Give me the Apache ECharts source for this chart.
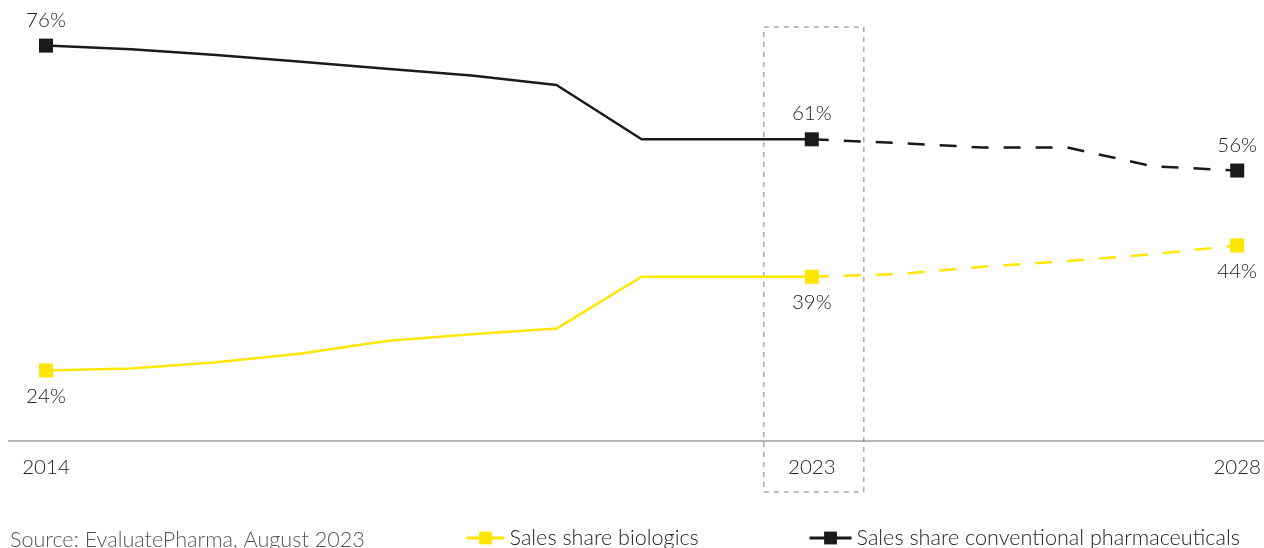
<!DOCTYPE html>
<html><head><meta charset="utf-8">
<script src="https://cdn.jsdelivr.net/npm/echarts@6/dist/echarts.min.js"></script>
<style>html,body{margin:0;padding:0;background:#fff}#c{width:1264px;height:548px}</style>
</head><body><div id="c"></div>
<script>
const years = ['2014','2015','2016','2017','2018','2019','2020','2021','2022','2023','2024','2025','2026','2027','2028'];
const labelYears = ['2014','2023','2028'];
const conventionalActual   = [76, 75.4, 74.5, 73.4, 72.3, 71.2, 69.7, 61, 61, 61, null, null, null, null, null];
const conventionalForecast = [null, null, null, null, null, null, null, null, null, 61, 60.4, 59.7, 59.7, 56.7, 56];
const biologicsActual      = [24, 24.3, 25.3, 26.7, 28.7, 29.8, 30.7, 39, 39, 39, null, null, null, null, null];
const biologicsForecast    = [null, null, null, null, null, null, null, null, null, 39, 39.4, 40.6, 41.5, 42.6, 44];
const markedActual = ['2014','2023'];
const markedForecast = ['2028'];
const nameBio = 'Sales share biologics';
const nameConv = 'Sales share conventional pharmaceuticals';
const sourceText = 'Source: EvaluatePharma, August 2023';

const FONT = 'Lato, "Open Sans", sans-serif';
const W = 300;
const BLACK = '#1a1a1a', YELLOW = '#ffe600', TXT = '#222';

function build(values, marked, pos) {
  return values.map((v, i) => {
    if (v === null) return null;
    const m = marked.includes(years[i]);
    return {
      value: v,
      symbol: m ? 'rect' : 'none',
      label: { show: m, position: pos, distance: 8, formatter: p => Math.round(p.value) + '%',
               color: TXT, fontSize: 20.5, fontWeight: W, fontFamily: FONT }
    };
  });
}
function series(name, values, marked, color, dashed, pos) {
  return {
    name, type: 'line', data: build(values, marked, pos),
    symbol: 'rect', symbolSize: 14, showSymbol: true,
    itemStyle: { color },
    lineStyle: { color, width: 2.5, type: dashed ? [17, 15] : 'solid' },
    connectNulls: false, silent: true, animation: false, z: color === BLACK ? 3 : 2
  };
}
const legendText = { color: TXT, fontSize: 21.6, fontWeight: W, fontFamily: FONT };

const chart = echarts.init(document.getElementById('c'), null, { renderer: 'canvas' });
const option = {
  animation: false,
  grid: { left: 46, right: 23, top: 20, bottom: 107, containLabel: false },
  xAxis: {
    type: 'category', data: years, boundaryGap: false,
    axisLine: { show: false }, axisTick: { show: false }, splitLine: { show: false },
    axisLabel: { interval: (i, v) => labelYears.includes(v), margin: 16,
                 color: TXT, fontSize: 20.5, fontWeight: W, fontFamily: FONT }
  },
  yAxis: { type: 'value', min: 12.7, max: 80.1, show: false, splitLine: { show: false } },
  legend: [
    { data: [nameBio], left: 460, bottom: -6, itemWidth: 38, itemHeight: 16, itemGap: 10,
      lineStyle: { width: 3 }, textStyle: legendText },
    { data: [nameConv], left: 803, bottom: -6, itemWidth: 42, itemHeight: 16, itemGap: 10,
      lineStyle: { width: 3 }, textStyle: legendText }
  ],
  series: [
    series(nameBio, biologicsActual, markedActual, YELLOW, false, 'bottom'),
    series(nameBio, biologicsForecast, markedForecast, YELLOW, true, 'bottom'),
    series(nameConv, conventionalActual, markedActual, BLACK, false, 'top'),
    series(nameConv, conventionalForecast, markedForecast, BLACK, true, 'top')
  ]
};
chart.setOption(option);

const yBase = chart.convertToPixel({ yAxisIndex: 0 }, 12.7);
const x2023 = chart.convertToPixel({ xAxisIndex: 0 }, '2023');
chart.setOption({
  graphic: [
    { type: 'line', shape: { x1: 8, y1: yBase, x2: 1264, y2: yBase },
      style: { stroke: '#6e6e6e', lineWidth: 1.2 }, silent: true, z: 1 },
    { type: 'rect', shape: { x: x2023 - 48, y: 27, width: 100, height: 465 },
      style: { fill: 'none', stroke: '#aaa', lineWidth: 1.5, lineDash: [5, 5] }, silent: true, z: 0 },
    { type: 'text', left: 10, top: 529,
      style: { text: sourceText, fill: '#555', fontSize: 21.6, fontWeight: W, fontFamily: FONT }, silent: true }
  ]
});
</script></body></html>
